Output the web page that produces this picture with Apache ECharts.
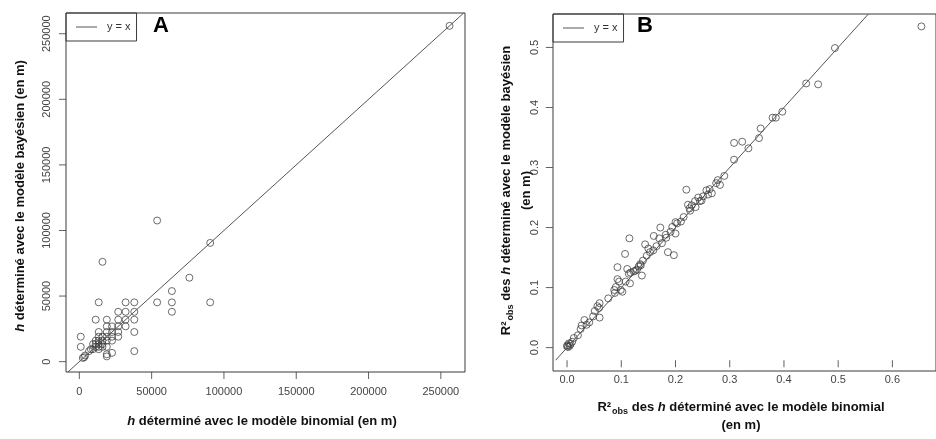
<!DOCTYPE html>
<html>
<head>
<meta charset="utf-8">
<script src="https://cdn.jsdelivr.net/npm/echarts@6/dist/echarts.min.js"></script>
<style>
  html, body { margin: 0; padding: 0; background: #fff; }
  #main { width: 936px; height: 439px; }
</style>
</head>
<body>
<div id="main"></div>
<script>
// Panneau A : h (en m), modèle binomial vs modèle bayésien
var hBinomial = [256000, 90500, 90500, 76100, 64000, 64000, 64000, 53800, 53800, 38000,
  38000, 38000, 38000, 38000, 32000, 32000, 32000, 32000, 26900, 26900,
  26900, 26900, 26900, 22600, 22600, 22600, 22600, 22600, 19000, 19000,
  19000, 19000, 19000, 19000, 19000, 19000, 16000, 16000, 16000, 16000,
  16000, 13400, 13400, 13400, 13400, 13400, 13400, 13400, 11300, 11300,
  11300, 11300, 9500, 9500, 8000, 6700, 4000, 3350, 2400, 1000, 1000];
var hBayes = [256000, 90500, 45200, 64000, 53800, 45200, 38000, 107600, 45200, 45200,
  38000, 32000, 22600, 8000, 45200, 38000, 32000, 26900, 38000, 32000,
  26900, 22600, 19000, 26900, 22600, 19000, 16000, 6700, 32000, 26900,
  22600, 19000, 16000, 11300, 5600, 4000, 76100, 19000, 16000, 13400,
  11300, 45200, 22600, 19000, 16000, 13400, 11300, 9500, 32000, 16000,
  13400, 11300, 13400, 9500, 9500, 8000, 4700, 3350, 2800, 19000, 11300];
var xTicksA = [0, 50000, 100000, 150000, 200000, 250000];
var yTicksA = [0, 50000, 100000, 150000, 200000, 250000];

// Panneau B : R²obs
var r2Binomial = [0.6535, 0.494, 0.441, 0.463, 0.397, 0.379, 0.385, 0.357, 0.354, 0.3345,
  0.308, 0.323, 0.308, 0.290, 0.278, 0.275, 0.282, 0.220, 0.257, 0.263,
  0.267, 0.260, 0.251, 0.242, 0.236, 0.245, 0.230, 0.223, 0.237, 0.227,
  0.215, 0.200, 0.203, 0.194, 0.172, 0.200, 0.191, 0.182, 0.160, 0.170,
  0.115, 0.175, 0.165, 0.159, 0.153, 0.147, 0.144, 0.150, 0.186, 0.197,
  0.107, 0.140, 0.135, 0.132, 0.129, 0.123, 0.117, 0.093, 0.111, 0.114,
  0.138, 0.093, 0.096, 0.090, 0.087, 0.099, 0.108, 0.116, 0.102, 0.088,
  0.076, 0.060, 0.056, 0.051, 0.059, 0.060, 0.032, 0.027, 0.036, 0.025,
  0.020, 0.0125, 0.0095, 0.0036, 0.0005, 0.000, 0.0066, 0.210, 0.226, 0.248,
  0.183, 0.136, 0.126, 0.005, 0.002, 0.041, 0.048];
var r2Bayes = [0.535, 0.499, 0.440, 0.4385, 0.393, 0.383, 0.383, 0.365, 0.349, 0.332,
  0.341, 0.343, 0.313, 0.286, 0.279, 0.274, 0.271, 0.263, 0.262, 0.264,
  0.257, 0.255, 0.252, 0.250, 0.244, 0.244, 0.237, 0.238, 0.234, 0.228,
  0.2175, 0.209, 0.207, 0.201, 0.200, 0.190, 0.193, 0.188, 0.186, 0.182,
  0.182, 0.174, 0.169, 0.162, 0.159, 0.153, 0.172, 0.165, 0.159, 0.154,
  0.156, 0.145, 0.139, 0.135, 0.130, 0.127, 0.125, 0.134, 0.131, 0.123,
  0.120, 0.114, 0.110, 0.101, 0.096, 0.096, 0.110, 0.107, 0.093, 0.091,
  0.082, 0.074, 0.069, 0.061, 0.066, 0.050, 0.046, 0.037, 0.038, 0.031,
  0.0205, 0.016, 0.0097, 0.007, 0.004, 0.002, 0.006, 0.210, 0.232, 0.245,
  0.183, 0.137, 0.128, 0.003, 0.001, 0.042, 0.052];
var xTicksB = [0, 0.1, 0.2, 0.3, 0.4, 0.5, 0.6];
var yTicksB = [0, 0.1, 0.2, 0.3, 0.4, 0.5];

// bornes du cadre (étendue R +4 %)
var rangeXA = [-9220, 266700], rangeYA = [-7900, 265800];
var rangeXB = [-0.0263, 0.6804], rangeYB = [-0.021, 0.5557];

// cadres en pixels : [left, top, width, height]
var boxA = [66, 13, 399, 359];
var boxB = [553, 14, 395, 357];
var tickLen = 7;

function zip(a, b) {
  return a.map(function (v, i) { return [v, b[i]]; });
}
// droite y = x, limitée au cadre
function diag(rx, ry) {
  var lo = Math.max(rx[0], ry[0]), hi = Math.min(rx[1], ry[1]);
  return [[lo, lo], [hi, hi]];
}
// axe prolongé de la longueur des graduations (à gauche / en bas)
function extend(range, size) {
  return [range[0] - tickLen * (range[1] - range[0]) / size, range[1]];
}

var font = 'Liberation Sans, Arial, sans-serif';
var ink = '#3a3a3a';

var rich = {
  it: { fontStyle: 'italic', fontWeight: 'bold', fontSize: 13, color: '#111', fontFamily: font },
  b: { fontWeight: 'bold', fontSize: 13, color: '#111', fontFamily: font },
  sub: { fontWeight: 'bold', fontSize: 9, color: '#111', fontFamily: font, padding: [9, 0, 0, 1] }
};

function valueAxis(idx, range, ticks, rotate, margin, fmt, name, nameGap, lh) {
  return {
    type: 'value',
    gridIndex: idx,
    min: range[0],
    max: range[1],
    axisLine: { show: false, onZero: false },
    splitLine: { show: false },
    axisTick: { show: false },
    axisLabel: {
      customValues: ticks, rotate: rotate, margin: margin,
      fontSize: 11, color: '#444', fontFamily: font, formatter: fmt
    },
    name: name,
    nameLocation: 'middle',
    nameGap: nameGap,
    nameRotate: rotate,
    nameMoveOverlap: false,
    nameTextStyle: {
      fontSize: 13, fontWeight: 'bold', color: '#111', fontFamily: font,
      align: 'center', lineHeight: lh, rich: rich
    }
  };
}

function hiddenAxis(idx, range) {
  return { type: 'value', gridIndex: idx, min: range[0], max: range[1], show: false };
}

// graduations : traits entre le cadre et le bord de la grille
function tickSeries(xi, ticks, fixed, horizontal) {
  return {
    type: 'scatter', xAxisIndex: xi, yAxisIndex: xi, silent: true,
    symbol: 'rect',
    symbolSize: horizontal ? [1, tickLen] : [tickLen, 1],
    symbolOffset: horizontal ? [0, tickLen / 2] : [-tickLen / 2, 0],
    itemStyle: { color: ink },
    data: ticks.map(function (t) { return horizontal ? [t, fixed] : [fixed, t]; })
  };
}

function fmtB(v) { return v.toFixed(1); }
function fmtA(v) { return String(v); }

var legendBase = {
  data: [{ name: 'y = x', icon: 'rect' }], padding: [7, 6, 7, 10],
  borderColor: ink, borderWidth: 1, itemWidth: 21, itemHeight: 1,
  textStyle: { fontSize: 11, lineHeight: 14, color: '#333', fontFamily: font, padding: [0, 0, 0, 5] }
};

function dataGrid(box) {
  return { left: box[0] - tickLen, top: box[1], width: box[2] + tickLen, height: box[3] + tickLen, show: false };
}
function frameGrid(box) {
  return { left: box[0], top: box[1], width: box[2], height: box[3], show: true, borderColor: ink, borderWidth: 1 };
}

var myChart = echarts.init(document.getElementById('main'), null, { renderer: 'canvas' });

option = {
  backgroundColor: '#fff',
  animation: false,
  title: [
    { text: 'A', left: 153, top: 15, padding: 0, textStyle: { fontSize: 22, fontWeight: 'bold', color: '#000', fontFamily: font } },
    { text: 'B', left: 637, top: 15, padding: 0, textStyle: { fontSize: 22, fontWeight: 'bold', color: '#000', fontFamily: font } }
  ],
  legend: [
    Object.assign({ left: 66, top: 13 }, legendBase),
    Object.assign({ left: 553, top: 14 }, legendBase)
  ],
  grid: [dataGrid(boxA), dataGrid(boxB), frameGrid(boxA), frameGrid(boxB)],
  xAxis: [
    valueAxis(0, extend(rangeXA, boxA[2]), xTicksA, 0, 7, fmtA,
      '{it|h} déterminé avec le modèle binomial (en m)', 33, 18),
    valueAxis(1, extend(rangeXB, boxB[2]), xTicksB, 0, 7, fmtB,
      'R²{sub|obs}{b| des }{it|h}{b| déterminé avec le modèle binomial}\n(en m)', 31, 18),
    hiddenAxis(2, rangeXA),
    hiddenAxis(3, rangeXB)
  ],
  yAxis: [
    valueAxis(0, extend(rangeYA, boxA[3]), yTicksA, 90, 7, fmtA,
      '{it|h} déterminé avec le modèle bayésien (en m)', 30, 18),
    valueAxis(1, extend(rangeYB, boxB[3]), yTicksB, 90, 6, fmtB,
      'R²{sub|obs}{b| des }{it|h}{b| déterminé avec le modèle bayésien}\n(en m)', 10, 20),
    hiddenAxis(2, rangeYA),
    hiddenAxis(3, rangeYB)
  ],
  series: [
    tickSeries(0, xTicksA, rangeYA[0], true),
    tickSeries(0, yTicksA, rangeXA[0], false),
    tickSeries(1, xTicksB, rangeYB[0], true),
    tickSeries(1, yTicksB, rangeXB[0], false),
    {
      name: 'y = x', type: 'line', xAxisIndex: 0, yAxisIndex: 0,
      data: diag(rangeXA, rangeYA), symbol: 'none', silent: true,
      lineStyle: { color: '#555', width: 1 }, itemStyle: { color: '#555' }
    },
    {
      type: 'scatter', xAxisIndex: 0, yAxisIndex: 0,
      data: zip(hBinomial, hBayes), symbol: 'circle', symbolSize: 7,
      itemStyle: { color: 'rgba(0,0,0,0)', borderColor: '#333', borderWidth: 0.9 }
    },
    {
      name: 'y = x', type: 'line', xAxisIndex: 1, yAxisIndex: 1,
      data: diag(rangeXB, rangeYB), symbol: 'none', silent: true,
      lineStyle: { color: '#555', width: 1 }, itemStyle: { color: '#555' }
    },
    {
      type: 'scatter', xAxisIndex: 1, yAxisIndex: 1,
      data: zip(r2Binomial, r2Bayes), symbol: 'circle', symbolSize: 7,
      itemStyle: { color: 'rgba(0,0,0,0)', borderColor: '#333', borderWidth: 0.9 }
    }
  ]
};

myChart.setOption(option);
</script>
</body>
</html>
